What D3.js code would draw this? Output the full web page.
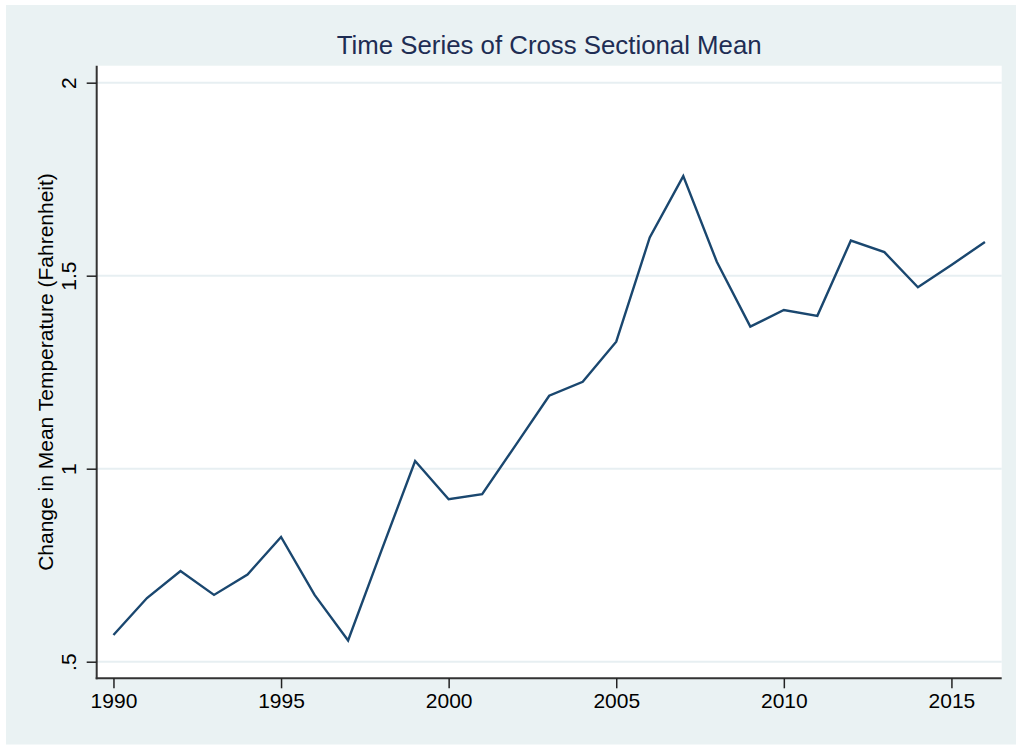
<!DOCTYPE html>
<html>
<head>
<meta charset="utf-8">
<script src="https://cdn.jsdelivr.net/npm/d3@7"></script>
<style>
  html, body { margin: 0; padding: 0; background: #ffffff; }
  svg { display: block; }
  text { font-family: "Liberation Sans", Arial, Helvetica, sans-serif; }
</style>
</head>
<body>
<svg id="chart" width="1016" height="745"></svg>
<script>
// Annual cross-sectional mean of the change in temperature
const years = [1990, 1991, 1992, 1993, 1994, 1995, 1996, 1997, 1998, 1999,
               2000, 2001, 2002, 2003, 2004, 2005, 2006, 2007, 2008, 2009,
               2010, 2011, 2012, 2013, 2014, 2015, 2016];
const meanChange = [0.569, 0.665, 0.735, 0.673, 0.726, 0.823, 0.673, 0.555, 0.789, 1.020,
                    0.921, 0.934, 1.061, 1.189, 1.225, 1.329, 1.599, 1.758, 1.536, 1.368,
                    1.411, 1.396, 1.591, 1.561, 1.470, 1.528, 1.587];

const xTickValues = [1990, 1995, 2000, 2005, 2010, 2015];
const yTickValues = [0.5, 1, 1.5, 2];
const yTickLabels = [".5", "1", "1.5", "2"];

const titleText = "Time Series of Cross Sectional Mean";
const yTitleText = "Change in Mean Temperature (Fahrenheit)";

const svg = d3.select("#chart");
const plot = { left: 96.7, right: 1001.7, top: 65.7, bottom: 678.3 };

const x = d3.scaleLinear().domain([1989.5, 2016.5]).range([plot.left, plot.right]);
const y = d3.scaleLinear().domain([0.457, 2.044]).range([plot.bottom, plot.top]);

// graph region background
svg.append("rect")
  .attr("x", 6).attr("y", 5).attr("width", 1010).attr("height", 739.5)
  .attr("fill", "#eaf2f3");

// plot region
svg.append("rect")
  .attr("x", plot.left).attr("y", plot.top)
  .attr("width", plot.right - plot.left).attr("height", plot.bottom - plot.top)
  .attr("fill", "#ffffff");

// horizontal gridlines
svg.append("g")
  .selectAll("line")
  .data(yTickValues)
  .join("line")
  .attr("x1", plot.left).attr("x2", plot.right)
  .attr("y1", d => y(d)).attr("y2", d => y(d))
  .attr("stroke", "#e7eff2").attr("stroke-width", 2);

// series line
const line = d3.line()
  .x((d, i) => x(years[i]))
  .y(d => y(d));

svg.append("path")
  .datum(meanChange)
  .attr("d", line)
  .attr("fill", "none")
  .attr("stroke", "#1a476f")
  .attr("stroke-width", 2.4)
  .attr("stroke-linejoin", "miter");

// x axis
const xAxis = d3.axisBottom(x)
  .tickValues(xTickValues)
  .tickFormat(d3.format("d"))
  .tickSizeInner(10).tickSizeOuter(0).tickPadding(5);

const gx = svg.append("g")
  .attr("transform", `translate(0,${plot.bottom})`)
  .call(xAxis);
gx.select(".domain").attr("stroke", "#333333").attr("stroke-width", 2)
  .attr("d", `M${plot.left - 1},0H${plot.right}`);
gx.selectAll(".tick line").attr("stroke", "#222222").attr("stroke-width", 1.5);
gx.selectAll(".tick text")
  .attr("fill", "#000000")
  .style("font-size", "21px")
  .style("font-family", "'Liberation Sans', Arial, sans-serif");

// y axis
const yAxis = d3.axisLeft(y)
  .tickValues(yTickValues)
  .tickFormat((d, i) => yTickLabels[i])
  .tickSizeInner(10).tickSizeOuter(0).tickPadding(0);

const gy = svg.append("g")
  .attr("transform", `translate(${plot.left},0)`)
  .call(yAxis);
gy.select(".domain").attr("stroke", "#333333").attr("stroke-width", 2)
  .attr("d", `M0,${plot.top}V${plot.bottom + 1}`);
gy.selectAll(".tick line").attr("stroke", "#222222").attr("stroke-width", 1.5);
gy.selectAll(".tick text")
  .attr("fill", "#000000")
  .attr("x", null).attr("dy", null)
  .attr("text-anchor", "middle")
  .attr("transform", "translate(-20.5,0) rotate(-90)")
  .style("font-size", "21px")
  .style("font-family", "'Liberation Sans', Arial, sans-serif");

// y axis title
svg.append("text")
  .attr("transform", `translate(53,${(plot.top + plot.bottom) / 2}) rotate(-90)`)
  .attr("text-anchor", "middle")
  .attr("fill", "#000000")
  .style("font-size", "21px")
  .text(yTitleText);

// chart title
svg.append("text")
  .attr("x", (plot.left + plot.right) / 2)
  .attr("y", 54)
  .attr("text-anchor", "middle")
  .attr("fill", "#1e2d53")
  .style("font-size", "25.8px")
  .text(titleText);
</script>
</body>
</html>
